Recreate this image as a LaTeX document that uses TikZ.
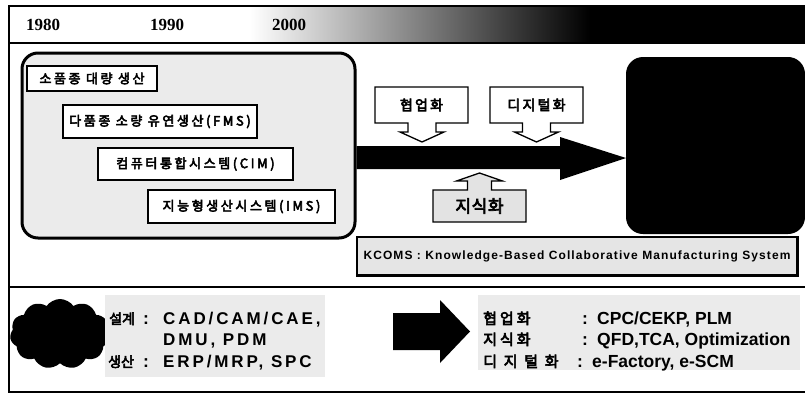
\documentclass[tikz,border=0pt]{standalone}
\usepackage{fontspec}
\setmainfont{Liberation Sans}
\newfontfamily\krf{Noto Sans CJK KR}[FakeBold=4]
\newfontfamily\yrf{Liberation Serif}
\usetikzlibrary{shapes.symbols}
\begin{document}
\begin{tikzpicture}[x=1pt,y=-1pt]
\tikzset{
  yearlbl/.style={font=\yrf\bfseries\fontsize{17}{17}\selectfont, inner sep=0, anchor=base west},
  stagebox/.style={draw, line width=1.6pt, fill=white, inner sep=0,
    font=\krf\fontsize{13}{15}\selectfont\addfontfeature{LetterSpace=20}},
  calloutshape/.style={draw, line width=1.3pt, line join=miter},
  callouttext/.style={inner sep=0, font=\krf\fontsize{14}{16}\selectfont\addfontfeature{LetterSpace=16}},
  bigcallouttext/.style={inner sep=0, font=\krf\fontsize{17}{19}\selectfont\addfontfeature{LetterSpace=4}},
  krlbl/.style={inner sep=0, anchor=base west, font=\krf\fontsize{14}{16}\selectfont},
  krlblw/.style={inner sep=0, anchor=base west, font=\krf\fontsize{15}{17}\selectfont\addfontfeature{LetterSpace=20}},
  krlblww/.style={inner sep=0, anchor=base west, font=\krf\fontsize{15}{17}\selectfont\addfontfeature{LetterSpace=45}},
  latw/.style={inner sep=0, anchor=base west, font=\bfseries\fontsize{17}{19}\selectfont\addfontfeature{LetterSpace=17}},
  lat/.style={inner sep=0, anchor=base west, font=\bfseries\fontsize{17.5}{19}\selectfont},
  speckle/.style={fill=gray!16},
}
\useasboundingbox (0,0) rectangle (805,394);
\fill[white] (0,0) rectangle (805,394);
% top time band
\shade[left color=white, right color=black] (250,6) rectangle (590,43);
\fill[black] (590,6) rectangle (805,43);
\draw[line width=1.5pt] (805,6) -- (9,6) -- (9,392) -- (805,392);
\draw[line width=1.3pt] (9,43) -- (805,43);
\draw[line width=1.3pt] (9,287) -- (805,287);
\node[yearlbl] (y1980) at (26,30) {1980};
\node[yearlbl] (y1990) at (150,30) {1990};
\node[yearlbl] (y2000) at (272,30) {2000};
% left rounded box
\node[draw, line width=3pt, speckle, rounded corners=16pt, minimum width=333pt, minimum height=185pt, inner sep=0] (old) at (188.5,145.5) {};
\node[stagebox, minimum width=130pt, minimum height=25pt] (b1) at (92,78.5) {소품종 대량 생산};
\node[stagebox, minimum width=194pt, minimum height=33pt] (b2) at (160,121.5) {다품종 소량 유연생산(FMS)};
\node[stagebox, minimum width=195pt, minimum height=32pt] (b3) at (195.5,164) {컴퓨터통합시스템(CIM)};
\node[stagebox, minimum width=187pt, minimum height=33pt] (b4) at (241.5,206.5) {지능형생산시스템(IMS)};
% right black box
\node[fill=black, draw=black, line width=2pt, rounded corners=16pt, minimum width=177pt, minimum height=175pt, inner sep=0] (new) at (715.5,145.5) {};
% big arrow
\fill[black] (old.east |- 0,146) -- (560,146) -- (560,137) -- (new.west |- 0,158) -- (560,180) -- (560,169) -- (old.east |- 0,169) -- cycle;
% callouts
\filldraw[calloutshape, fill=white] (375,87) -- (468,87) -- (468,123) -- (436,123) -- (436,132) -- (444,132) -- (422,142) -- (400,132) -- (408,132) -- (408,123) -- (375,123) -- cycle;
\node[callouttext] (colab) at (421.5,105) {협업화};
\filldraw[calloutshape, fill=white] (490,87) -- (583,87) -- (583,123) -- (550.5,123) -- (550.5,132) -- (558.5,132) -- (536.5,142) -- (514.5,132) -- (522.5,132) -- (522.5,123) -- (490,123) -- cycle;
\node[callouttext] (digit) at (536.5,105) {디지털화};
\filldraw[calloutshape, fill=gray!22] (433,222) -- (526,222) -- (526,190) -- (491.5,190) -- (491.5,181) -- (502.5,181) -- (479.5,173) -- (456.5,181) -- (467.5,181) -- (467.5,190) -- (433,190) -- cycle;
\node[bigcallouttext] (know) at (479.5,206) {지식화};
% KCOMS box
\node[draw, line width=1.3pt, fill=gray!20, minimum width=440pt, minimum height=38pt, inner sep=0,
  font=\bfseries\fontsize{12}{13}\selectfont\addfontfeature{LetterSpace=9}] (kcoms) at (577,256) {KCOMS : Knowledge-Based Collaborative Manufacturing System};
\draw[line width=2.5pt] (kcoms.south west) -- (kcoms.south east) -- (kcoms.north east);
% bottom section
\node[cloud, cloud puffs=11, cloud puff arc=110, aspect=1.4, fill=black, minimum width=100pt, minimum height=70pt, inner sep=0] (cloud) at (60,334) {};
\fill[speckle] (105,295) rectangle (325,377);
\fill[speckle] (478,295) rectangle (800,370);
\node[krlbl] (sg) at (109,324) {설계};
\node[lat] (sgc) at (143,324) {:};
\node[latw] (sgv) at (163,324) {CAD/CAM/CAE,};
\node[latw] (sgv2) at (163,345) {DMU, PDM};
\node[krlbl] (ss) at (108,367) {생산};
\node[lat] (ssc) at (143,367) {:};
\node[latw] (ssv) at (163,367) {ERP/MRP, SPC};
\fill[black] (393,313) -- (440,313) -- (440,300) -- (470,331.5) -- (440,363) -- (440,350) -- (393,350) -- cycle;
\node[krlblw] (r1) at (483,324) {협업화};
\node[lat] (r1c) at (582,324) {:};
\node[lat] (r1v) at (597,324) {CPC/CEKP, PLM};
\node[krlblw] (r2) at (483,345) {지식화};
\node[lat] (r2c) at (582,345) {:};
\node[lat] (r2v) at (597,345) {QFD,TCA, Optimization};
\node[krlblww] (r3) at (483,367) {디지털화};
\node[lat] (r3c) at (577,367) {:};
\node[lat] (r3v) at (592,367) {e-Factory, e-SCM};
\end{tikzpicture}
\end{document}
